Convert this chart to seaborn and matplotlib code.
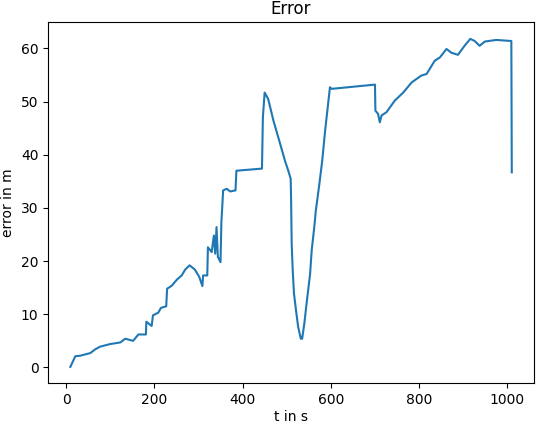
import numpy as np
import pandas as pd
import seaborn as sns
import matplotlib
matplotlib.use('Agg')
import matplotlib.pyplot as plt

# --- data ---
t_s = [9.7, 21, 32, 55, 66, 77, 100, 123, 134, 152, 164, 181, 182, 194, 197, 209,
       215, 227, 229, 240, 251, 262, 270, 280, 292, 302, 309, 310.5, 320, 321.5, 330,
       335, 338, 341, 344, 350, 352, 356, 364, 372, 384, 386, 444, 446, 450, 458,
       470, 485, 496, 503.6, 509, 510, 511.3, 513.6, 516.5, 521, 526, 532, 535,
       540, 545, 553, 556.6, 562.5, 566, 574, 580.5, 587, 598, 602, 651, 700, 701,
       707, 711, 715, 726, 745, 764, 783, 805, 817, 835.5, 847, 862, 873, 888,
       903, 916, 926, 937, 949, 975, 1009, 1010]
error_m = [0.1, 2.1, 2.2, 2.7, 3.4, 3.9, 4.4, 4.7, 5.4, 5.0, 6.2, 6.2, 8.6, 7.8, 9.8, 10.3,
           11.2, 11.5, 14.8, 15.4, 16.5, 17.3, 18.4, 19.2, 18.4, 17.0, 15.3, 17.3, 17.3, 22.6, 21.7,
           24.8, 21.4, 26.4, 20.8, 19.8, 27.3, 33.3, 33.6, 33.1, 33.3, 37.0, 37.4, 47.0, 51.7, 50.5,
           46.4, 42.1, 38.9, 37.0, 35.5, 31.4, 23.3, 18.3, 13.9, 10.8, 7.6, 5.4, 5.4,
           8.3, 12.0, 17.6, 22.0, 26.4, 29.5, 34.5, 38.9, 44.5, 52.7, 52.4, 52.8, 53.2, 48.3,
           47.7, 46.1, 47.4, 48.0, 50.2, 51.7, 53.6, 54.9, 55.2, 57.7, 58.3, 59.9, 59.2, 58.8,
           60.5, 61.8, 61.4, 60.5, 61.3, 61.6, 61.4, 36.7]

df = pd.DataFrame({'t': t_s, 'error': error_m})

# --- plot ---
fig, ax = plt.subplots(figsize=(5.36, 4.24), dpi=100)
sns.lineplot(data=df, x='t', y='error', ax=ax, color='#1f77b4', linewidth=1.5, estimator=None)
ax.set_title('Error')
ax.set_xlabel('t in s', labelpad=2)
ax.set_ylabel('error in m')

fig.subplots_adjust(left=0.090, right=0.996, bottom=0.096, top=0.947)
fig.savefig('out.png', dpi=100)
